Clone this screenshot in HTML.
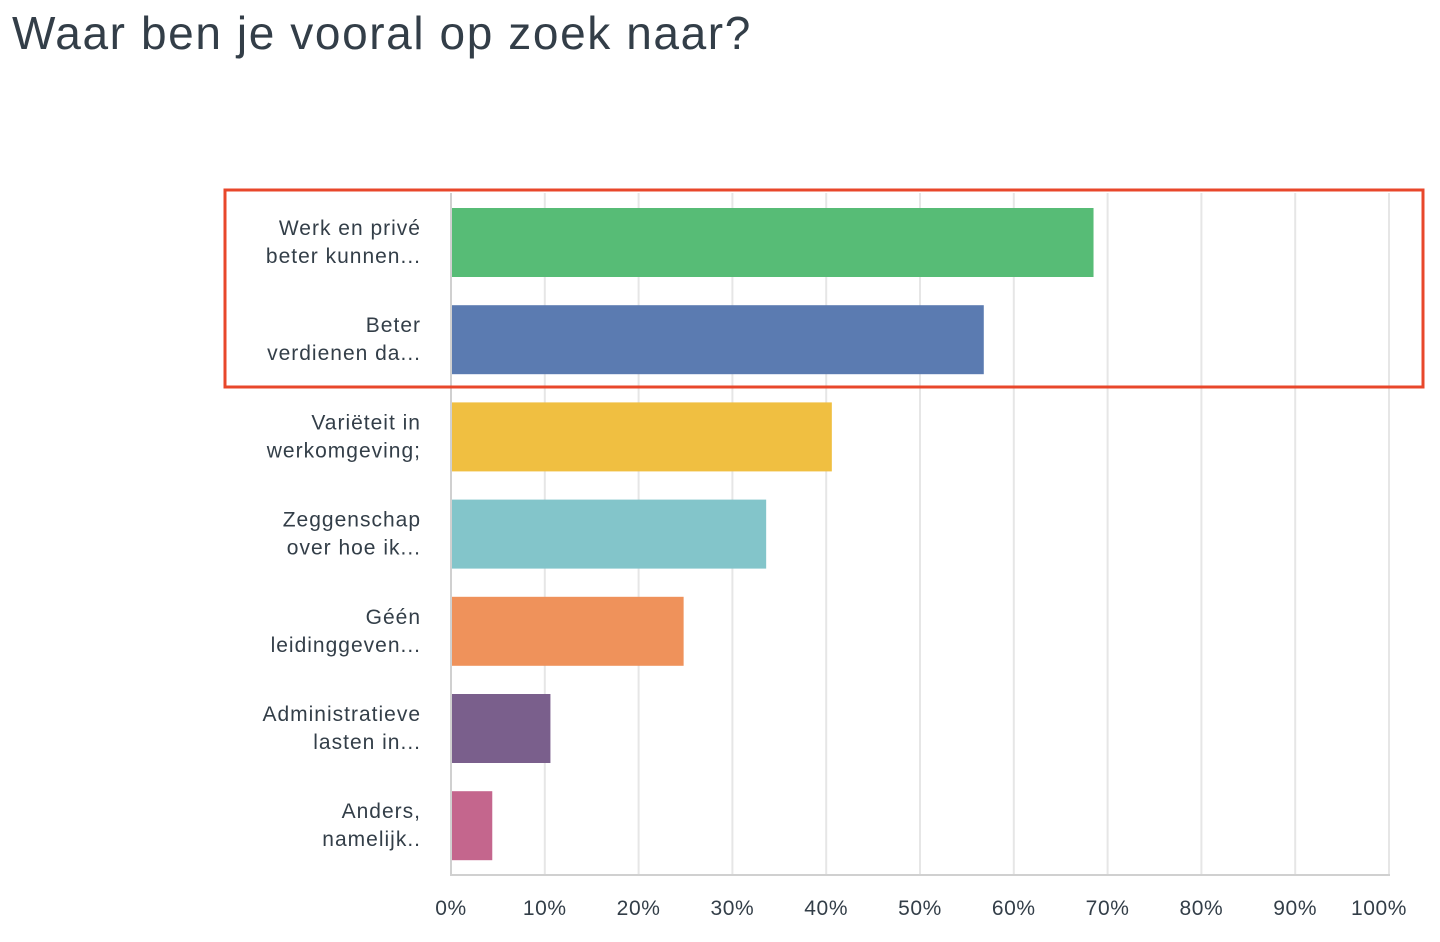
<!DOCTYPE html>
<html><head><meta charset="utf-8">
<style>
body{margin:0;width:1440px;height:942px;background:#fff;font-family:"Liberation Sans",sans-serif;overflow:hidden;position:relative}
#title{position:absolute;left:12px;top:6px;font-size:46px;color:#333e48;letter-spacing:1.6px}
svg{position:absolute;left:0;top:0}
</style></head><body>
<div id="title">Waar ben je vooral op zoek naar?</div>
<svg id="chart" width="1440" height="942"></svg>
<script>
const categories=[["Werk en privé","beter kunnen..."],["Beter","verdienen da..."],["Variëteit in","werkomgeving;"],["Zeggenschap","over hoe ik..."],["Géén","leidinggeven..."],["Administratieve","lasten in..."],["Anders,","namelijk.."]];
const values=[68.5,56.8,40.6,33.6,24.8,10.6,4.4];
const colors=["#57bc76","#5b7bb1","#f0bf41","#83c5ca","#ef925b","#7a5f8c","#c4668d"];
const ticks=[0,10,20,30,40,50,60,70,80,90,100];
const ns="http://www.w3.org/2000/svg";
const svg=document.getElementById('chart');
const x0=451,x1=1389,top0=193,bottom=875;
const xs=v=>x0+(x1-x0)*v/100;
const rowY=i=>208+i*97.2;
const bh=69;
function mk(t,a){const e=document.createElementNS(ns,t);for(const k in a)e.setAttribute(k,a[k]);svg.appendChild(e);return e;}
ticks.forEach((t,i)=>{
  if(t>0){const g=mk('line',{x1:xs(t),x2:xs(t),y1:top0,y2:bottom,stroke:'#e6e6e6','stroke-width':2});
  
  }
  const l=mk('text',{x:xs(t)-(t==100?10:0),y:915,'text-anchor':'middle','font-size':21,'letter-spacing':0.6,fill:'#333e48','font-family':'Liberation Sans, sans-serif'});
  l.textContent=t+'%';
  
  
});
const ax=mk('line',{x1:x0,x2:x0,y1:top0,y2:bottom+1,stroke:'#d0d0d0','stroke-width':2});


const bx=mk('line',{x1:x0-1,x2:x1+1,y1:bottom,y2:bottom,stroke:'#d0d0d0','stroke-width':2});


values.forEach((v,i)=>{
  const r=mk('rect',{x:x0+1,y:rowY(i),width:xs(v)-x0-1,height:bh,fill:colors[i]});
  
  
  categories[i].forEach((s,j)=>{
    const t=mk('text',{x:421,y:rowY(i)+27+j*28,'text-anchor':'end','font-size':21,'letter-spacing':1,fill:'#333e48','font-family':'Liberation Sans, sans-serif'});
    t.textContent=s;
    
    
  });
});
const hl=mk('rect',{x:225,y:190,width:1198,height:197,fill:'none',stroke:'#e8472b','stroke-width':3});


</script>
</body></html>
